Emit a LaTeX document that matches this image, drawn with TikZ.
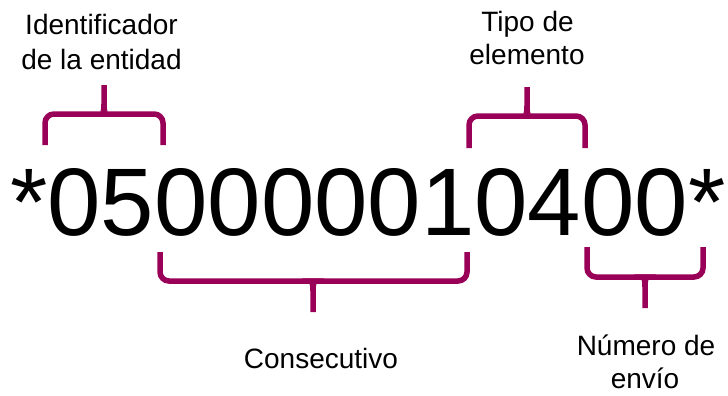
\documentclass[tikz,border=0pt]{standalone}
\usepackage{fontspec}
\setmainfont{Liberation Sans}
\definecolor{bracecol}{RGB}{153,0,88}
\tikzset{
  bracestroke/.style={draw=bracecol, line width=5.5pt},
  lbl/.style={anchor=base, inner sep=0pt, font=\fontsize{28}{34}\selectfont},
  code/.style={anchor=base west, inner sep=0pt, font=\fontsize{96}{100}\selectfont}
}
\begin{document}
\begin{tikzpicture}[x=1pt,y=-1pt]
\useasboundingbox (0,0) rectangle (728,396);
% big code
\node[code] (code) at (10,235) {*050000010400*};
% labels
\node[lbl] (id1) at (101.5,35) {Identificador};
\node[lbl] (id2) at (101.5,70) {de la entidad};
\node[lbl] (ti1) at (527.5,32) {Tipo de};
\node[lbl] (ti2) at (527,65) {elemento};
\node[lbl] (con) at (321,368) {Consecutivo};
\node[lbl] (nu1) at (646,355) {Número de};
\node[lbl] (nu2) at (645,388) {envío};
% brace 1 (top, tip up)
\draw[bracestroke] (45,145) [rounded corners=9pt] -- (45,114) -- (95,114) [sharp corners]
  .. controls (102,114) and (104,112) .. (104,104) -- (104,85);
\draw[bracestroke] (163,145) [rounded corners=9pt] -- (163,114) -- (113,114) [sharp corners]
  .. controls (106,114) and (104,112) .. (104,104);
% brace 2 (top, tip up)
\draw[bracestroke] (469,148) [rounded corners=9pt] -- (469,116) -- (518,116) [sharp corners]
  .. controls (525,116) and (527,114) .. (527,106) -- (527,87);
\draw[bracestroke] (585,148) [rounded corners=9pt] -- (585,116) -- (536,116) [sharp corners]
  .. controls (529,116) and (527,114) .. (527,106);
% brace 3 (bottom, tip down)
\draw[bracestroke] (160,252) [rounded corners=9pt] -- (160,281) -- (304,281) [sharp corners]
  .. controls (311,281) and (313,283) .. (313,291) -- (313,312);
\draw[bracestroke] (467,252) [rounded corners=9pt] -- (467,281) -- (322,281) [sharp corners]
  .. controls (315,281) and (313,283) .. (313,291);
% brace 4 (bottom, tip down)
\draw[bracestroke] (587,247) [rounded corners=9pt] -- (587,277) -- (636,277) [sharp corners]
  .. controls (643,277) and (645,279) .. (645,287) -- (645,308);
\draw[bracestroke] (703,247) [rounded corners=9pt] -- (703,277) -- (654,277) [sharp corners]
  .. controls (647,277) and (645,279) .. (645,287);
\end{tikzpicture}
\end{document}
